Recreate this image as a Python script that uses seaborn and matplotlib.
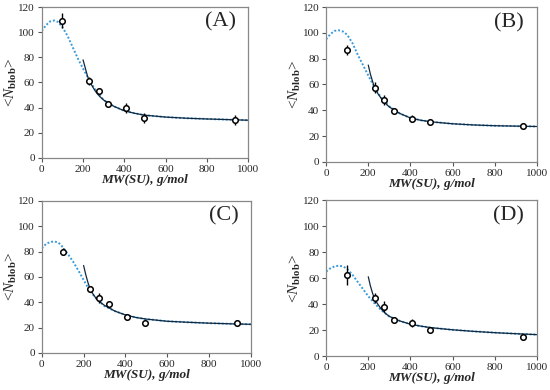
import seaborn as sns
import pandas as pd
import matplotlib.pyplot as plt

# measured points, shared x positions
mw_points = [100, 230, 275, 320, 408, 495, 935]

n_a = [109, 61, 53, 43, 40, 32, 30.5]
err_a = [6, 3, 2, 1.5, 4, 4, 4]
n_b = [86.5, 57.5, 48, 39.5, 33.5, 31, 27.6]
err_b = [4, 4, 4, 1.5, 3, 1.5, 1.5]
n_c = [80, 50.3, 43.2, 39, 28, 23.8, 23.3]
err_c = [2.5, 2.5, 4, 1.5, 1.5, 2, 2]
n_d = [62.5, 44.5, 38, 27.8, 25.2, 20.4, 15]
err_d = [7.5, 4, 4, 1.5, 3, 1.5, 1.5]

# curves
mw_dot = [0, 20, 40, 60, 80, 100, 125, 150, 175, 200, 230, 260, 300, 350,
          400, 450, 500, 600, 700, 800, 900, 1000]
dot_a = [101, 105.5, 108.5, 109.3, 108, 104, 97, 88, 79, 71, 62, 54, 46, 41,
         37.5, 35.5, 34, 32.5, 31.6, 31, 30.5, 30]
dot_b = [95, 99, 101.5, 102, 101, 98.5, 92, 83, 75, 67, 57.5, 50, 43, 37.5,
         34, 32.2, 31, 29.5, 28.6, 28, 27.7, 27.4]
dot_c = [82.5, 86, 87.5, 88, 87, 83.5, 78, 72, 65, 57.6, 49, 43, 37, 33,
         30, 28, 26.7, 25, 24.2, 23.5, 23, 22.6]
dot_d = [65, 67.5, 69, 69.5, 69, 67, 62.5, 57, 51.5, 46, 40.5, 35.5, 30.5,
         27, 24.5, 23, 21.8, 20.2, 19, 18, 17.2, 16.5]

mw_solid = [200, 210, 220, 230, 245, 260, 280, 300, 350, 400, 450, 500, 600,
            700, 800, 900, 1000]
sol_a = [78, 72, 66, 61, 57, 53, 49, 46, 41, 37.5, 35.5, 34, 32.5, 31.6, 31,
         30.5, 30]
sol_b = [75, 68, 62.5, 57.5, 53, 49.5, 45.5, 42.5, 37.5, 34, 32.2, 31, 29.5,
         28.6, 28, 27.7, 27.4]
sol_c = [69, 62, 56, 51, 46.5, 43, 40, 37.5, 33, 30, 28, 26.7, 25, 24.2,
         23.5, 23, 22.6]
sol_d = [61, 54, 48.5, 44, 40, 36.5, 33, 30.5, 27, 24.5, 23, 21.8, 20.2, 19,
         18, 17.2, 16.5]

panels = [
    ("(A)", n_a, err_a, dot_a, sol_a, [0.076, 0.595, 0.375, 0.387]),
    ("(B)", n_b, err_b, dot_b, sol_b, [0.593, 0.585, 0.383, 0.397]),
    ("(C)", n_c, err_c, dot_c, sol_c, [0.076, 0.095, 0.380, 0.390]),
    ("(D)", n_d, err_d, dot_d, sol_d, [0.593, 0.087, 0.383, 0.400]),
]

sns.set_style("ticks")
plt.rcParams["font.family"] = ["Liberation Serif", "DejaVu Serif"]
plt.rcParams["mathtext.fontset"] = "custom"
plt.rcParams["mathtext.rm"] = "Liberation Serif"
plt.rcParams["mathtext.it"] = "Liberation Serif:italic"
plt.rcParams["mathtext.bf"] = "Liberation Serif:bold"

fig = plt.figure(figsize=(5.5, 3.9), dpi=100)

for label, n, err, dot, sol, pos in panels:
    ax = fig.add_axes(pos)
    dot_df = pd.DataFrame({"mw": mw_dot, "n": dot})
    sol_df = pd.DataFrame({"mw": mw_solid, "n": sol})
    pts_df = pd.DataFrame({"mw": mw_points, "n": n, "err": err})

    sns.lineplot(data=dot_df, x="mw", y="n", ax=ax, color="#3B9BD8",
                 linestyle=(0, (1, 1)), linewidth=1.4)
    sns.lineplot(data=sol_df, x="mw", y="n", ax=ax, color="#12283f",
                 linewidth=0.9)
    ax.errorbar(pts_df["mw"], pts_df["n"], yerr=pts_df["err"], fmt="none",
                ecolor="black", elinewidth=1, capsize=0, zorder=3)
    sns.scatterplot(data=pts_df, x="mw", y="n", ax=ax, marker="o", s=16,
                    facecolor="white", edgecolor="black", linewidth=1.1,
                    zorder=4)

    ax.set_xlim(0, 1000)
    ax.set_ylim(0, 120)
    ax.set_xticks(range(0, 1001, 200))
    ax.set_yticks(range(0, 121, 20))
    ax.tick_params(labelsize=8, length=3, width=0.8, color="#555555",
                   pad=2)
    for sp in ax.spines.values():
        sp.set_color("#888888")
        sp.set_linewidth(0.9)
    ax.set_xlabel("MW(SU), g/mol", fontsize=9.5, fontweight="bold",
                  fontstyle="italic", labelpad=0)
    ax.set_ylabel(r"<$\mathit{N}_{\mathbf{blob}}$>", fontsize=11)
    # y label sits just left of the tick labels
    ax_w_px = pos[2] * 550
    ax.yaxis.set_label_coords(-23 / ax_w_px, 0.5)
    ax.text(0.94, 0.9, label, transform=ax.transAxes, ha="right",
            va="center", fontsize=16)

fig.savefig("out.png", dpi=100)
